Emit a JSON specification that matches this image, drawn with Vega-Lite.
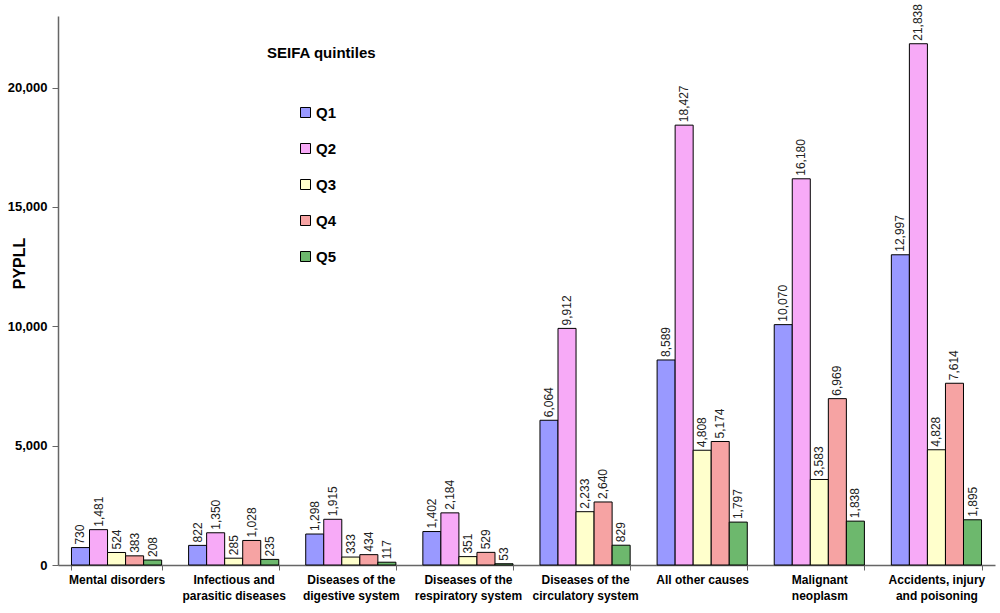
{
  "$schema": "https://vega.github.io/schema/vega-lite/v6.json",
  "width": 937,
  "height": 549,
  "autosize": "none",
  "padding": {"left": 58, "top": 16, "right": 5, "bottom": 48},
  "background": "white",
  "config": {
    "view": {"stroke": null},
    "font": "Liberation Sans"
  },
  "title": {
    "text": "SEIFA quintiles",
    "anchor": "start",
    "frame": "group",
    "orient": "top",
    "offset": 0,
    "dx": 209,
    "dy": 57,
    "fontSize": 15,
    "fontWeight": "bold",
    "font": "Liberation Sans",
    "color": "black"
  },
  "data": {
    "values": [
      {"cause": "Mental disorders", "q": "Q1", "v": 730},
      {"cause": "Mental disorders", "q": "Q2", "v": 1481},
      {"cause": "Mental disorders", "q": "Q3", "v": 524},
      {"cause": "Mental disorders", "q": "Q4", "v": 383},
      {"cause": "Mental disorders", "q": "Q5", "v": 208},
      {"cause": "Infectious and\nparasitic diseases", "q": "Q1", "v": 822},
      {"cause": "Infectious and\nparasitic diseases", "q": "Q2", "v": 1350},
      {"cause": "Infectious and\nparasitic diseases", "q": "Q3", "v": 285},
      {"cause": "Infectious and\nparasitic diseases", "q": "Q4", "v": 1028},
      {"cause": "Infectious and\nparasitic diseases", "q": "Q5", "v": 235},
      {"cause": "Diseases of the\ndigestive system", "q": "Q1", "v": 1298},
      {"cause": "Diseases of the\ndigestive system", "q": "Q2", "v": 1915},
      {"cause": "Diseases of the\ndigestive system", "q": "Q3", "v": 333},
      {"cause": "Diseases of the\ndigestive system", "q": "Q4", "v": 434},
      {"cause": "Diseases of the\ndigestive system", "q": "Q5", "v": 117},
      {"cause": "Diseases of the\nrespiratory system", "q": "Q1", "v": 1402},
      {"cause": "Diseases of the\nrespiratory system", "q": "Q2", "v": 2184},
      {"cause": "Diseases of the\nrespiratory system", "q": "Q3", "v": 351},
      {"cause": "Diseases of the\nrespiratory system", "q": "Q4", "v": 529},
      {"cause": "Diseases of the\nrespiratory system", "q": "Q5", "v": 53},
      {"cause": "Diseases of the\ncirculatory system", "q": "Q1", "v": 6064},
      {"cause": "Diseases of the\ncirculatory system", "q": "Q2", "v": 9912},
      {"cause": "Diseases of the\ncirculatory system", "q": "Q3", "v": 2233},
      {"cause": "Diseases of the\ncirculatory system", "q": "Q4", "v": 2640},
      {"cause": "Diseases of the\ncirculatory system", "q": "Q5", "v": 829},
      {"cause": "All other causes", "q": "Q1", "v": 8589},
      {"cause": "All other causes", "q": "Q2", "v": 18427},
      {"cause": "All other causes", "q": "Q3", "v": 4808},
      {"cause": "All other causes", "q": "Q4", "v": 5174},
      {"cause": "All other causes", "q": "Q5", "v": 1797},
      {"cause": "Malignant\nneoplasm", "q": "Q1", "v": 10070},
      {"cause": "Malignant\nneoplasm", "q": "Q2", "v": 16180},
      {"cause": "Malignant\nneoplasm", "q": "Q3", "v": 3583},
      {"cause": "Malignant\nneoplasm", "q": "Q4", "v": 6969},
      {"cause": "Malignant\nneoplasm", "q": "Q5", "v": 1838},
      {"cause": "Accidents, injury\nand poisoning", "q": "Q1", "v": 12997},
      {"cause": "Accidents, injury\nand poisoning", "q": "Q2", "v": 21838},
      {"cause": "Accidents, injury\nand poisoning", "q": "Q3", "v": 4828},
      {"cause": "Accidents, injury\nand poisoning", "q": "Q4", "v": 7614},
      {"cause": "Accidents, injury\nand poisoning", "q": "Q5", "v": 1895}
    ]
  },
  "encoding": {
    "x": {
      "field": "cause",
      "type": "nominal",
      "sort": null,
      "scale": {"paddingInner": 0.23, "paddingOuter": 0.115},
      "axis": {
        "title": null,
        "labelAngle": 0,
        "labelExpr": "split(datum.label, '\\n')",
        "labelFont": "Liberation Sans",
        "labelFontSize": 12,
        "labelFontWeight": "bold",
        "labelColor": "black",
        "labelLineHeight": 16,
        "labelPadding": 4,
        "labelLimit": 200,
        "tickBand": "extent",
        "tickSize": 5,
        "tickColor": "#666666",
        "domainColor": "#666666",
        "domainWidth": 1.5
      }
    },
    "xOffset": {
      "field": "q",
      "type": "nominal",
      "scale": {"paddingInner": 0, "paddingOuter": 0}
    },
    "y": {
      "field": "v",
      "type": "quantitative",
      "scale": {"domain": [0, 23000], "nice": false},
      "axis": {
        "title": "PYPLL",
        "titleFont": "Liberation Sans",
        "titleFontSize": 16,
        "titleFontWeight": "bold",
        "titleColor": "black",
        "titleAngle": -90,
        "titleAlign": "center",
        "titleBaseline": "middle",
        "titleX": -38.5,
        "titleY": 247,
        "values": [0, 5000, 10000, 15000, 20000],
        "format": ",.0f",
        "grid": false,
        "labelFont": "Liberation Sans",
        "labelFontSize": 13,
        "labelFontWeight": "bold",
        "labelColor": "black",
        "labelPadding": 5,
        "tickSize": 6,
        "tickColor": "#666666",
        "domainColor": "#666666",
        "domainWidth": 1.5
      }
    }
  },
  "layer": [
    {
      "mark": {"type": "bar", "stroke": "black", "strokeWidth": 1},
      "encoding": {
        "fill": {
          "field": "q",
          "type": "nominal",
          "scale": {
            "domain": ["Q1", "Q2", "Q3", "Q4", "Q5"],
            "range": ["#9999FF", "#F7AAF7", "#FFFFCC", "#F6A3A3", "#6DB86D"]
          },
          "legend": {
            "title": null,
            "orient": "none",
            "legendX": 240,
            "legendY": 89,
            "symbolType": "square",
            "symbolSize": 100,
            "symbolStrokeColor": "black",
            "symbolStrokeWidth": 1,
            "symbolOpacity": 1,
            "labelFont": "Liberation Sans",
            "labelFontSize": 15,
            "labelFontWeight": "bold",
            "labelColor": "black",
            "labelOffset": 3,
            "rowPadding": 20
          }
        }
      }
    },
    {
      "mark": {
        "type": "text",
        "angle": 270,
        "align": "left",
        "baseline": "middle",
        "dx": 3,
        "font": "Liberation Sans",
        "fontSize": 12,
        "color": "#222222"
      },
      "encoding": {
        "text": {"field": "v", "type": "quantitative", "format": ","}
      }
    }
  ]
}
